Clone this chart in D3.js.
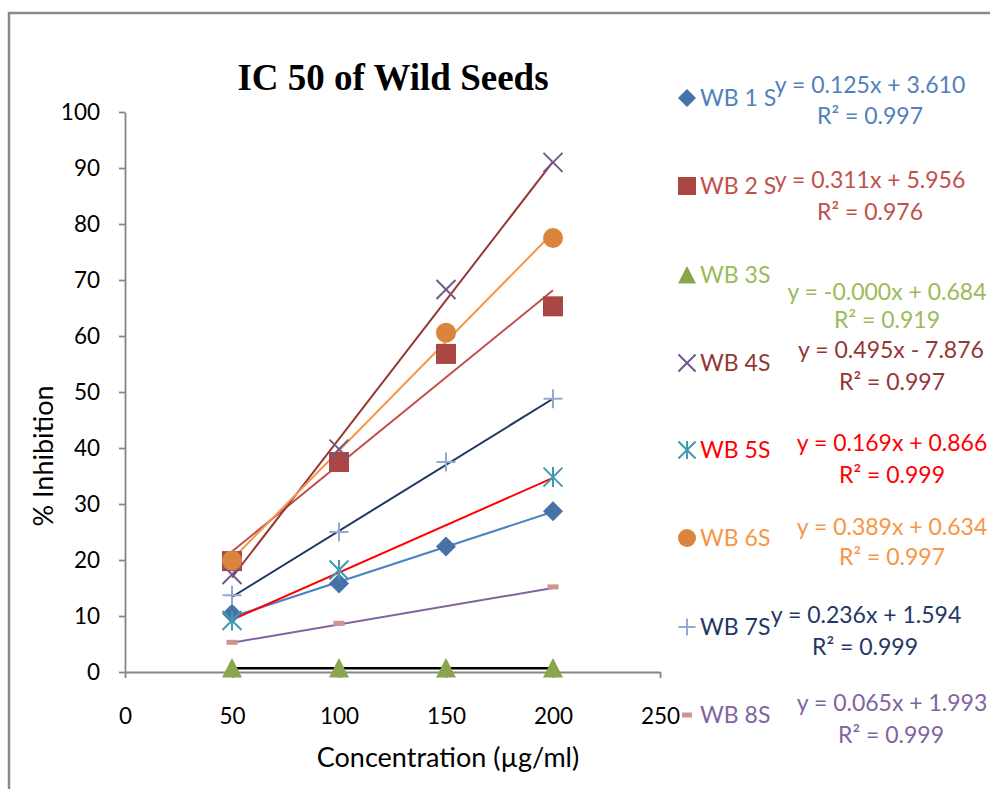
<!DOCTYPE html>
<html><head><meta charset="utf-8">
<script src="https://cdn.jsdelivr.net/npm/d3@7"></script>
<style>body{margin:0;background:#fff}svg{display:block}</style>
</head><body>
<script>
const concentrations = [50, 100, 150, 200];
const xTicks = [0, 50, 100, 150, 200, 250];
const yTicks = [0, 10, 20, 30, 40, 50, 60, 70, 80, 90, 100];
const seriesNames = ["WB 1 S", "WB 2 S", "WB 3S", "WB 4S", "WB 5S", "WB 6S", "WB 7S", "WB 8S"];
const wb1 = [10.4, 15.8, 22.4, 28.7];
const wb2 = [19.8, 37.5, 56.8, 65.3];
const wb3 = [0.7, 0.7, 0.7, 0.7];
const wb4 = [17.4, 39.8, 68.3, 91.0];
const wb5 = [9.2, 18.2, null, 34.8];
const wb6 = [19.9, null, 60.6, 77.5];
const wb7 = [13.7, 25.0, 37.5, 48.8];
const wb8 = [5.3, 8.7, null, 15.2];
const slopes = [0.125, 0.311, -0.0001, 0.495, 0.169, 0.389, 0.236, 0.065];
const intercepts = [3.610, 5.956, 0.684, -7.876, 0.866, 0.634, 1.594, 1.993];
const eqTexts = ["y = 0.125x + 3.610", "y = 0.311x + 5.956", "y = -0.000x + 0.684", "y = 0.495x - 7.876",
  "y = 0.169x + 0.866", "y = 0.389x + 0.634", "y = 0.236x + 1.594", "y = 0.065x + 1.993"];
const r2Texts = ["R² = 0.997", "R² = 0.976", "R² = 0.919", "R² = 0.997", "R² = 0.999", "R² = 0.997", "R² = 0.999", "R² = 0.999"];

const values = [wb1, wb2, wb3, wb4, wb5, wb6, wb7, wb8];
const markerColors = ["#4572A7", "#AA4643", "#89A54E", "#71588F", "#4198AF", "#DB843D", "#93A9CF", "#D19392"];
const lineColors = ["#4F81BD", "#C0504D", "#000000", "#953735", "#FF0000", "#F79646", "#1F3864", "#8064A2"];
const textColors = ["#4F81BD", "#C0504D", "#9BBB59", "#953735", "#FF0000", "#F79646", "#1F3864", "#8064A2"];
const shapes = ["diamond", "square", "triangle", "x", "star", "circle", "plus", "dash"];

const W = 990, H = 789;
const svg = d3.select("body").append("svg").attr("width", W).attr("height", H);
const font = "Lato, 'Open Sans', sans-serif";

svg.append("rect").attr("x", 9).attr("y", 13).attr("width", 1000).attr("height", 800)
  .attr("fill", "#fff").attr("stroke", "#8a8a8a").attr("stroke-width", 2.5);

const x = d3.scaleLinear().domain([0, 250]).range([125, 660]);
const y = d3.scaleLinear().domain([0, 100]).range([672, 112]);

// axes
const yAx = svg.append("g").attr("transform", "translate(125,0)")
  .call(d3.axisLeft(y).tickValues(yTicks).tickSize(6).tickPadding(19).tickSizeOuter(0));
const xAx = svg.append("g").attr("transform", "translate(0,672)")
  .call(d3.axisBottom(x).tickValues(xTicks).tickSize(6).tickPadding(26).tickSizeOuter(0));
[yAx, xAx].forEach(g => {
  g.selectAll("path,line").attr("stroke", "#868686").attr("stroke-width", 1.8);
  g.selectAll("text").attr("font-family", font).attr("font-size", 22.5).attr("fill", "#000");
});
xAx.selectAll("text").attr("dy", "0.35em").attr("y", 44);

// title & axis titles
svg.append("text").attr("x", 393).attr("y", 90).attr("text-anchor", "middle")
  .attr("font-family", "'Liberation Serif', 'Times New Roman', serif").attr("font-weight", "bold")
  .attr("font-size", 37).text("IC 50 of Wild Seeds");
svg.append("text").attr("transform", "translate(53,456) rotate(-90)").attr("text-anchor", "middle")
  .attr("font-family", font).attr("font-size", 27).text("% Inhibition");
svg.append("text").attr("x", 448).attr("y", 767).attr("text-anchor", "middle")
  .attr("font-family", font).attr("font-size", 27).text("Concentration (µg/ml)");

// trendlines
values.forEach((vals, i) => {
  const xs = concentrations.filter((c, j) => vals[j] !== null);
  const x0 = d3.min(xs), x1 = d3.max(xs);
  const f = c => slopes[i] * c + intercepts[i];
  svg.append("line").attr("x1", x(x0)).attr("y1", y(f(x0))).attr("x2", x(x1)).attr("y2", y(f(x1)))
    .attr("stroke", lineColors[i]).attr("stroke-width", i === 2 ? 2.5 : 2);
});

function drawMarker(g, shape, color, s) {
  const k = s * 0.95;
  if (shape === "diamond") g.append("path").attr("d", `M0,${-s}L${s},0L0,${s}L${-s},0Z`).attr("fill", color);
  else if (shape === "square") g.append("rect").attr("x", -s).attr("y", -s).attr("width", s * 2).attr("height", s * 2).attr("fill", color);
  else if (shape === "triangle") g.append("path").attr("d", `M0,${-s}L${s},${s * 0.95}L${-s},${s * 0.95}Z`).attr("fill", color);
  else if (shape === "circle") g.append("circle").attr("r", s).attr("fill", color);
  else if (shape === "x") g.append("path").attr("d", `M${-k},${-k}L${k},${k}M${k},${-k}L${-k},${k}`).attr("stroke", color).attr("stroke-width", 2).attr("fill", "none");
  else if (shape === "star") g.append("path").attr("d", `M${-k},${-k}L${k},${k}M${k},${-k}L${-k},${k}M0,${-s}L0,${s}`).attr("stroke", color).attr("stroke-width", 2).attr("fill", "none");
  else if (shape === "plus") g.append("path").attr("d", `M${-k},0L${k},0M0,${-k}L0,${k}`).attr("stroke", color).attr("stroke-width", 2).attr("fill", "none");
  else if (shape === "dash") g.append("rect").attr("x", -s * 0.55).attr("y", -2.5).attr("width", s * 1.1).attr("height", 5).attr("fill", color);
}

// markers
values.forEach((vals, i) => {
  vals.forEach((v, j) => {
    if (v === null) return;
    const g = svg.append("g").attr("transform", `translate(${x(concentrations[j])},${y(v)})`);
    drawMarker(g, shapes[i], markerColors[i], 10);
  });
});

// legend
const legendY = [98, 186, 275, 363, 450, 538, 627, 715];
seriesNames.forEach((name, i) => {
  const g = svg.append("g").attr("transform", `translate(687,${legendY[i]})`);
  drawMarker(g, shapes[i], markerColors[i], 9);
  g.append("text").attr("x", 13).attr("dy", "0.35em").attr("font-family", font).attr("font-size", 23)
    .attr("fill", textColors[i]).text(name);
});

// equations
const eqPos = [[870, 85], [870, 180], [887, 292], [891, 350], [892, 443], [892, 527], [866, 615], [892, 703]];
const r2Pos = [[870, 116], [870, 212], [887, 320], [892, 382], [892, 475], [892, 557], [865, 647], [891, 735]];
eqTexts.forEach((t, i) => {
  svg.append("text").attr("x", eqPos[i][0]).attr("y", eqPos[i][1]).attr("dy", "0.35em").attr("text-anchor", "middle")
    .attr("font-family", font).attr("font-size", 23).attr("fill", textColors[i]).text(t);
  svg.append("text").attr("x", r2Pos[i][0]).attr("y", r2Pos[i][1]).attr("dy", "0.35em").attr("text-anchor", "middle")
    .attr("font-family", font).attr("font-size", 23).attr("fill", textColors[i]).text(r2Texts[i]);
});
</script>
</body></html>
